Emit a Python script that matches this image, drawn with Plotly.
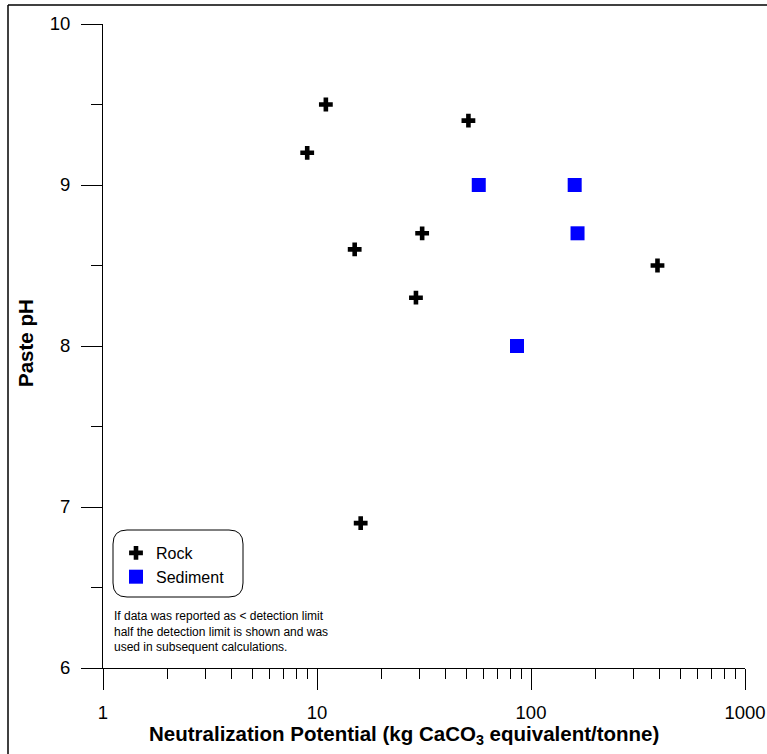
import plotly.graph_objects as go

# Neutralization potential (kg CaCO3 eq./tonne) and paste pH
rock_np = [9, 11, 15, 31, 29, 51, 390, 16]
rock_ph = [9.2, 9.5, 8.6, 8.7, 8.3, 9.4, 8.5, 6.9]
sed_np = [57, 86, 160, 165]
sed_ph = [9.0, 8.0, 9.0, 8.7]

x_ticks = [1, 10, 100, 1000]
x_tick_text = ["1", "10", "100", "1000"]
y_ticks = [6, 7, 8, 9, 10]

FONT = "Liberation Sans, Arial, sans-serif"
W, H = 767, 754
L, R, T, B = 103, 22, 24, 86
PW, PH = W - L - R, H - T - B


def px(x):
    return (x - L) / PW


def py(y):
    return (H - B - y) / PH


fig = go.Figure()
fig.add_trace(go.Scatter(
    x=rock_np, y=rock_ph, mode="markers", name="Rock",
    marker=dict(symbol="cross", size=11.5, color="#000000", line=dict(width=0)),
))
fig.add_trace(go.Scatter(
    x=sed_np, y=sed_ph, mode="markers", name="Sediment",
    marker=dict(symbol="square", size=14, color="#0000ff", line=dict(width=0)),
))

# rounded legend frame
x0, x1, y0, y1, r = px(113), px(243), py(530), py(597), 14
rx, ry = r / PW, r / PH
path = (
    f"M {x0 + rx} {y0} L {x1 - rx} {y0} Q {x1} {y0} {x1} {y0 - ry} "
    f"L {x1} {y1 + ry} Q {x1} {y1} {x1 - rx} {y1} "
    f"L {x0 + rx} {y1} Q {x0} {y1} {x0} {y1 + ry} "
    f"L {x0} {y0 - ry} Q {x0} {y0} {x0 + rx} {y0} Z"
)
shapes = [
    dict(type="path", xref="paper", yref="paper", path=path,
         line=dict(color="#000000", width=1)),
    # page frame (left and top edges)
    dict(type="line", xref="paper", yref="paper",
         x0=px(8), x1=px(8), y0=py(5), y1=py(754),
         line=dict(color="#000000", width=1.5)),
    dict(type="line", xref="paper", yref="paper",
         x0=px(8), x1=px(767), y0=py(5), y1=py(5),
         line=dict(color="#000000", width=1.5)),
]

annotations = [
    dict(xref="paper", yref="paper", x=px(112), y=py(607), xanchor="left", yanchor="top",
         align="left", showarrow=False,
         text="If data was reported as &lt; detection limit<br>"
              "half the detection limit is shown and was<br>"
              "used in subsequent calculations.",
         font=dict(family=FONT, size=12, color="#000000")),
    dict(xref="paper", yref="paper", x=px(404), y=py(735), xanchor="center", yanchor="middle",
         showarrow=False,
         text="<b>Neutralization Potential (kg CaCO<sub>3</sub> equivalent/tonne)</b>",
         font=dict(family=FONT, size=20.5, color="#000000")),
    dict(xref="paper", yref="paper", x=px(25), y=py(343), xanchor="center", yanchor="middle",
         showarrow=False, textangle=-90,
         text="<b>Paste pH</b>",
         font=dict(family=FONT, size=20.5, color="#000000")),
]

fig.update_layout(
    width=W, height=H, autosize=False,
    margin=dict(l=L, r=R, t=T, b=B, pad=0, autoexpand=False),
    paper_bgcolor="#ffffff", plot_bgcolor="#ffffff",
    font=dict(family=FONT, size=18, color="#000000"),
    showlegend=True,
    legend=dict(x=px(116), y=py(536), xanchor="left", yanchor="top",
                bgcolor="rgba(0,0,0,0)", borderwidth=0,
                font=dict(family=FONT, size=16, color="#000000"),
                itemsizing="trace", tracegroupgap=0),
    shapes=shapes,
    annotations=annotations,
)

fig.update_xaxes(
    type="log", range=[0, 3], showgrid=False, zeroline=False, automargin=False,
    showline=True, linecolor="#000000", linewidth=1,
    tickmode="array", tickvals=x_ticks, ticktext=x_tick_text,
    ticks="outside", ticklen=21, tickwidth=1, tickcolor="#000000",
    ticklabelstandoff=7,
    tickfont=dict(family=FONT, size=18.5, color="#000000"),
    minor=dict(ticks="outside", ticklen=10, tickwidth=1, tickcolor="#000000",
               dtick="D1", showgrid=False),
)
fig.update_yaxes(
    range=[6, 10], showgrid=False, zeroline=False, automargin=False,
    showline=True, linecolor="#000000", linewidth=1,
    tickmode="array", tickvals=y_ticks,
    ticks="outside", ticklen=21, tickwidth=1, tickcolor="#000000",
    ticklabelstandoff=7,
    tickfont=dict(family=FONT, size=18.5, color="#000000"),
    minor=dict(ticks="outside", ticklen=11, tickwidth=1, tickcolor="#000000",
               dtick=0.5, showgrid=False),
)

fig.write_html("out.html")
